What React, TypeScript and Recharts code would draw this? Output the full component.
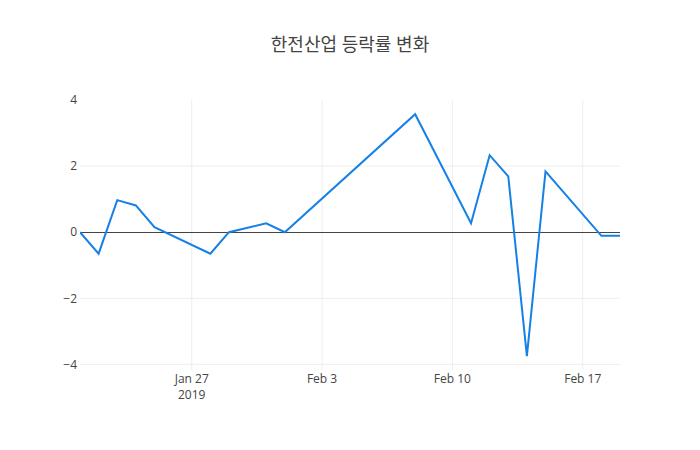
import { LineChart, Line, XAxis, YAxis, CartesianGrid, ReferenceLine } from 'recharts';

const dates = [
  '2019-01-21', '2019-01-22', '2019-01-23', '2019-01-24', '2019-01-25',
  '2019-01-28', '2019-01-29', '2019-01-31', '2019-02-01', '2019-02-08',
  '2019-02-11', '2019-02-12', '2019-02-13', '2019-02-14', '2019-02-15',
  '2019-02-18', '2019-02-19',
];
const changes = [
  0, -0.65, 0.97, 0.81, 0.15,
  -0.65, 0, 0.27, 0, 3.57,
  0.27, 2.33, 1.69, -3.75, 1.84,
  -0.11, -0.11,
];
const xTickDates = ['2019-01-27', '2019-02-03', '2019-02-10', '2019-02-17'];
const xTickLabels = ['Jan 27', 'Feb 3', 'Feb 10', 'Feb 17'];
const yTicks = [-4, -2, 0, 2, 4];

const toTs = (d: string) => Date.parse(d + 'T00:00:00Z');

const data = dates.map((d, i) => ({ t: toTs(d), v: changes[i] }));
const xTicks = xTickDates.map(toTs);

const font = "'Open Sans', 'Noto Sans CJK KR', sans-serif";

function DateTick(props: any) {
  const { x, y, payload } = props;
  const idx = xTicks.indexOf(payload.value);
  return (
    <text x={x} y={y} textAnchor="middle" fill="#444" fontSize={12} fontFamily={font}>
      <tspan x={x} dy={5}>{xTickLabels[idx]}</tspan>
      {idx === 0 && <tspan x={x} dy={16}>2019</tspan>}
    </text>
  );
}

export default function App() {
  return (
    <div style={{ position: 'absolute', left: 0, top: 0, width: 700, height: 450, background: '#fff' }}>
      <div
        style={{
          position: 'absolute',
          top: 30,
          left: 0,
          width: 700,
          textAlign: 'center',
          fontFamily: font,
          fontSize: 18,
          color: '#444',
        }}
      >
        한전산업 등락률 변화
      </div>
      <LineChart width={700} height={450} data={data} margin={{ top: 100, right: 80, bottom: 0, left: 0 }}>
        <CartesianGrid stroke="#eee" strokeWidth={1} horizontalValues={[-4, -2, 2]} verticalValues={xTicks} />
        <XAxis
          dataKey="t"
          type="number"
          scale="time"
          domain={[toTs('2019-01-21'), toTs('2019-02-19')]}
          ticks={xTicks}
          tick={<DateTick />}
          tickLine={false}
          axisLine={false}
          height={80}
          allowDataOverflow
        />
        <YAxis
          type="number"
          domain={[-4.17, 4]}
          ticks={yTicks}
          allowDataOverflow
          tickLine={false}
          axisLine={false}
          width={80}
          tickSize={0}
          tickMargin={3}
          tickFormatter={(v: number) => (v < 0 ? '\u2212' + Math.abs(v) : String(v))}
          tick={{ fill: '#444', fontSize: 12, fontFamily: font }}
        />
        <ReferenceLine y={0} stroke="#444" strokeWidth={1} shapeRendering="crispEdges" />
        <Line
          type="linear"
          dataKey="v"
          stroke="#1580e6"
          strokeWidth={2}
          dot={false}
          isAnimationActive={false}
        />
      </LineChart>
    </div>
  );
}
